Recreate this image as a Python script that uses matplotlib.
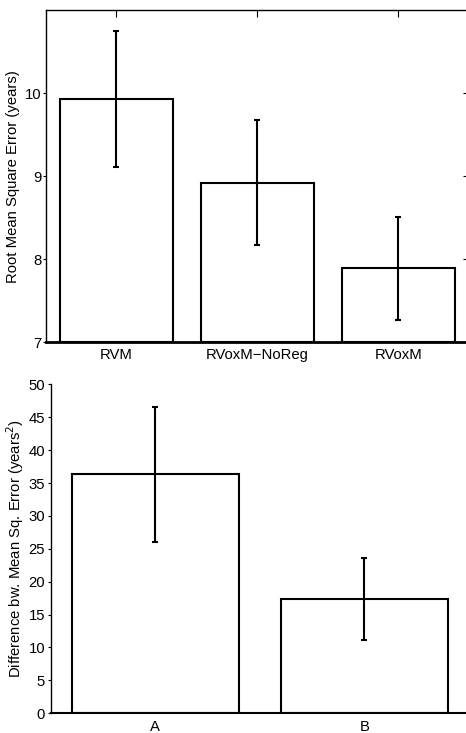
import matplotlib
matplotlib.use("Agg")
import matplotlib.pyplot as plt

plt.rcParams['font.family'] = ['Liberation Sans', 'DejaVu Sans']

top_categories = ["RVM", "RVoxM\u2212NoReg", "RVoxM"]
top_values = [9.93, 8.92, 7.89]
top_errors = [0.82, 0.75, 0.62]
top_yticks = [7, 8, 9, 10]

bot_categories = ["A", "B"]
bot_values = [36.3, 17.37]
bot_errors = [10.2, 6.2]
bot_yticks = [0, 5, 10, 15, 20, 25, 30, 35, 40, 45, 50]

FS = 10.7

fig = plt.figure(figsize=(4.66, 7.33), dpi=100)

# Top panel
ax1 = fig.add_axes([0.0987, 0.533, 1.006 - 0.0987, 0.9864 - 0.533])
x1 = list(range(1, len(top_categories) + 1))
ax1.bar(x1, [v - 7 for v in top_values], bottom=7, width=0.8, color='white',
        edgecolor='black', linewidth=1.5, zorder=2)
ax1.errorbar(x1, top_values, yerr=top_errors, fmt='none', ecolor='black',
             elinewidth=1.5, capsize=2.5, capthick=1.5, zorder=3)
ax1.set_xlim(0.5, 3.5)
ax1.set_ylim(7, 11)
ax1.set_xticks(x1)
ax1.set_xticklabels(top_categories)
ax1.set_yticks(top_yticks)
ax1.tick_params(axis='x', direction='in', bottom=False, top=True, labelbottom=True,
                length=5, width=0.8, labelsize=FS, pad=4)
ax1.tick_params(axis='y', direction='out', left=True, right=False,
                length=2.5, width=0.8, labelsize=FS, pad=1)
sec = ax1.secondary_yaxis('right')
sec.set_yticks(top_yticks)
sec.tick_params(direction='in', length=4, width=0.8, labelright=False)
for s in ['left', 'top', 'right']:
    ax1.spines[s].set_linewidth(1.0)
ax1.spines['bottom'].set_linewidth(2.0)
ax1.set_ylabel("Root Mean Square Error (years)", fontsize=FS, labelpad=3)

# Bottom panel
ax2 = fig.add_axes([0.1088, 0.0269, 1.006 - 0.1088, 0.4757 - 0.0269])
x2 = list(range(1, len(bot_categories) + 1))
ax2.bar(x2, bot_values, width=0.8, color='white', edgecolor='black',
        linewidth=1.5, zorder=2)
ax2.errorbar(x2, bot_values, yerr=bot_errors, fmt='none', ecolor='black',
             elinewidth=1.5, capsize=2.5, capthick=1.5, zorder=3)
ax2.set_xlim(0.5, 2.5)
ax2.set_ylim(0, 50)
ax2.set_xticks(x2)
ax2.set_xticklabels(bot_categories)
ax2.set_yticks(bot_yticks)
ax2.spines['top'].set_visible(False)
ax2.spines['right'].set_visible(False)
ax2.spines['left'].set_linewidth(1.0)
ax2.spines['bottom'].set_linewidth(1.5)
ax2.tick_params(axis='y', direction='out', length=2.5, width=0.8, labelsize=FS, pad=1.5)
ax2.tick_params(axis='x', length=0, labelsize=FS, pad=5)
ax2.set_ylabel("Difference bw. Mean Sq. Error (years$^2$)", fontsize=FS, labelpad=1.5)

fig.savefig("out.png", dpi=100)
